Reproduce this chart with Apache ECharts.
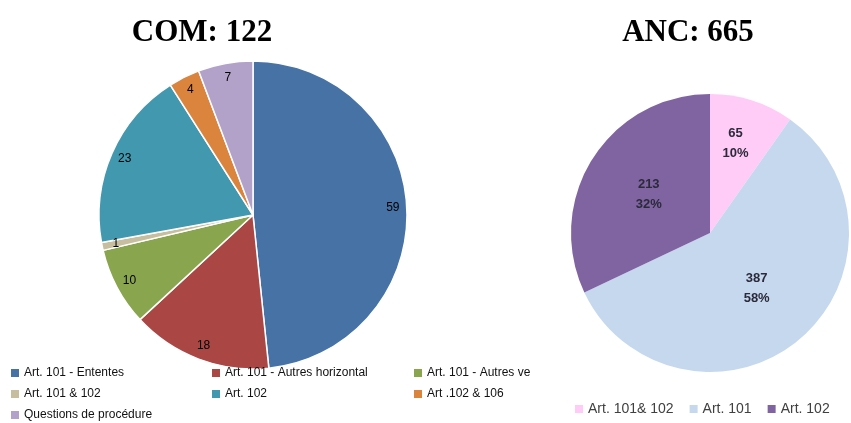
<!DOCTYPE html>
<html>
<head>
<meta charset="utf-8">
<script src="https://cdn.jsdelivr.net/npm/echarts@6/dist/echarts.min.js"></script>
<style>
  html, body { margin: 0; padding: 0; background: #fff; }
  #main { width: 851px; height: 423px; }
</style>
</head>
<body>
<div id="main"></div>
<script>
// COM : décisions par article
var comNames = ['Art. 101 - Ententes', 'Art. 101 - Autres horizontal', 'Art. 101 - Autres verticales',
  'Art. 101 & 102', 'Art. 102', 'Art .102 & 106', 'Questions de procédure'];
var comValues = [59, 18, 10, 1, 23, 4, 7];
var comColors = ['#4672A6', '#AA4644', '#89A54E', '#C6BE9E', '#4198AF', '#DB843D', '#B2A2CA'];

// ANC
var ancNames = ['Art. 101& 102', 'Art. 101', 'Art. 102'];
var ancValues = [65, 387, 213];
var ancColors = ['#FFCCF8', '#C6D8EE', '#8064A2'];

var comTitle = 'COM: 122';
var ancTitle = 'ANC: 665';

// colonnes de la légende de gauche
var legendCols = [[0, 3, 6], [1, 4], [2, 5]];
var legendX = [11, 212, 414];

var dom = document.getElementById('main');
var myChart = echarts.init(dom, null, { renderer: 'canvas' });

var comData = comNames.map(function (n, i) {
  return { name: n, value: comValues[i], itemStyle: { color: comColors[i] } };
});
var ancTotal = ancValues.reduce(function (a, b) { return a + b; }, 0);
var ancData = ancNames.map(function (n, i) {
  return { name: n, value: ancValues[i], itemStyle: { color: ancColors[i] } };
});

var legends = legendCols.map(function (col, c) {
  return {
    orient: 'vertical',
    left: legendX[c],
    top: 366,
    height: 80,
    padding: 0,
    itemWidth: 8,
    itemHeight: 8,
    itemGap: 7,
    icon: 'rect',
    selectedMode: false,
    itemStyle: { borderWidth: 0 },
    data: col.map(function (i) {
      return { name: comNames[i], itemStyle: { color: comColors[i], borderWidth: 0 } };
    }),
    textStyle: {
      fontFamily: 'Liberation Sans',
      fontSize: 12,
      color: '#111',
      lineHeight: 14,
      width: c === 2 ? 106 : 190,
      overflow: 'truncate',
      ellipsis: ''
    }
  };
});
legends.push({
  orient: 'horizontal',
  left: 575,
  top: 402,
  padding: 0,
  itemWidth: 8,
  itemHeight: 8,
  itemGap: 16,
  icon: 'rect',
  selectedMode: false,
  itemStyle: { borderWidth: 0 },
  data: ancNames.map(function (n, i) {
    return { name: n, itemStyle: { color: ancColors[i], borderWidth: 0 } };
  }),
  textStyle: { fontFamily: 'Liberation Sans', fontSize: 14, color: '#404040' }
});

var option = {
  backgroundColor: '#fff',
  animation: false,
  title: [{
    text: comTitle,
    left: 202,
    top: 17,
    padding: 0,
    textAlign: 'center',
    textStyle: { fontFamily: 'Liberation Serif', fontWeight: 'bold', fontSize: 31, color: '#000' }
  }, {
    text: ancTitle,
    left: 688,
    top: 17,
    padding: 0,
    textAlign: 'center',
    textStyle: { fontFamily: 'Liberation Serif', fontWeight: 'bold', fontSize: 31, color: '#000' }
  }],
  legend: legends,
  series: [{
    name: 'COM',
    type: 'pie',
    center: [253, 215],
    radius: [0, 154],
    startAngle: 90,
    clockwise: true,
    silent: true,
    itemStyle: { borderColor: '#fff', borderWidth: 1.5 },
    label: { show: false },
    labelLine: { show: false },
    data: comData
  }, {
    // anneau transparent pour placer les étiquettes près du bord
    name: 'COM labels',
    type: 'pie',
    center: [253, 215],
    radius: [118, 156],
    startAngle: 90,
    clockwise: true,
    silent: true,
    itemStyle: { color: 'rgba(0,0,0,0)', borderWidth: 0 },
    label: {
      show: true,
      position: 'inside',
      formatter: '{c}',
      fontFamily: 'Liberation Sans',
      fontSize: 12,
      color: '#000'
    },
    labelLine: { show: false },
    data: comValues.map(function (v, i) {
      return { name: comNames[i], value: v, itemStyle: { color: 'rgba(0,0,0,0)' } };
    })
  }, {
    name: 'ANC',
    type: 'pie',
    center: [710, 233],
    radius: [0, 139],
    startAngle: 90,
    clockwise: true,
    silent: true,
    label: {
      show: true,
      position: 'inside',
      fontFamily: 'Liberation Sans',
      fontWeight: 'bold',
      fontSize: 13,
      lineHeight: 20,
      color: '#2a2a3a',
      formatter: function (p) {
        var pct = Math.round(p.value / ancTotal * 100) + '%';
        // la petite part : étiquette remontée vers le bord, comme dans Excel
        if (p.dataIndex === 0) return '  ' + p.value + '\n  ' + pct + '\n\n';
        return p.value + '\n' + pct;
      }
    },
    labelLine: { show: false },
    data: ancData
  }]
};

myChart.setOption(option);
</script>
</body>
</html>
